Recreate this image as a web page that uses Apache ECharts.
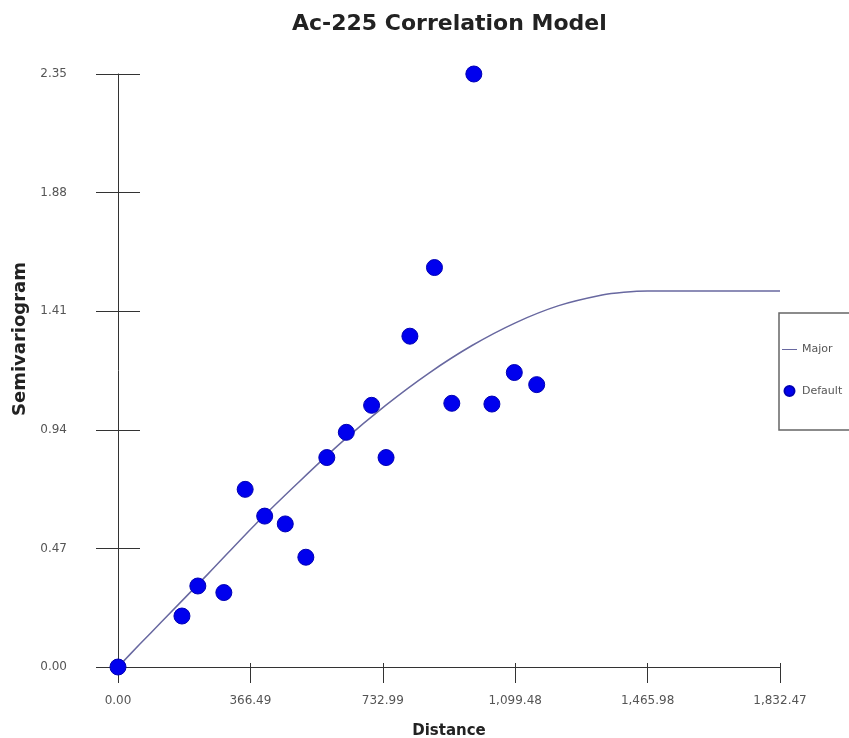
<!DOCTYPE html>
<html>
<head>
<meta charset="utf-8">
<script src="https://cdn.jsdelivr.net/npm/echarts@6/dist/echarts.min.js"></script>
<style>
html,body{margin:0;padding:0;background:#fff;}
#chart{width:849px;height:738px;}
</style>
</head>
<body>
<div id="chart"></div>
<script>
// Empirical semivariogram points ("Default")
var pointDistance = [0, 177, 221, 293, 352, 406, 463, 520, 578, 632, 702, 742, 808, 876, 924, 985, 1035, 1097, 1159];
var pointGamma    = [0, 0.202, 0.321, 0.295, 0.704, 0.598, 0.567, 0.435, 0.830, 0.930, 1.037, 0.830, 1.311, 1.583, 1.045, 2.35, 1.042, 1.167, 1.119];

// Fitted model curve ("Major")
var modelDistance = [0, 60, 120, 250, 380, 500, 620, 740, 860, 980, 1100, 1220, 1340, 1400, 1465.98, 1832.47];
var modelGamma    = [0, 0.09, 0.178, 0.37, 0.565, 0.732, 0.892, 1.036, 1.164, 1.274, 1.364, 1.432, 1.474, 1.485, 1.49, 1.49];

var xTickValues = [0, 366.49, 732.99, 1099.48, 1465.98, 1832.47];
var xTickLabels = ['0.00', '366.49', '732.99', '1,099.48', '1,465.98', '1,832.47'];
var yTickValues = [0, 0.47, 0.94, 1.41, 1.88, 2.35];
var yTickLabels = ['0.00', '0.47', '0.94', '1.41', '1.88', '2.35'];

function zip(a, b) { return a.map(function (v, i) { return [v, b[i]]; }); }
function lab(values, labels) {
  return function (v) {
    for (var i = 0; i < values.length; i++) if (Math.abs(values[i] - v) < 1e-6) return labels[i];
    return '';
  };
}

var chart = echarts.init(document.getElementById('chart'));
var axisColor = '#333';
chart.setOption({
  backgroundColor: '#fff',
  animation: false,
  title: {
    text: 'Ac-225 Correlation Model',
    left: 292,
    top: 13,
    padding: 0,
    textStyle: { fontFamily: 'DejaVu Sans', fontWeight: 'bold', fontSize: 22, color: '#222' }
  },
  grid: { left: 118, right: 69, top: 74, bottom: 71, containLabel: false, outerBoundsMode: 'none' },
  legend: {
    orient: 'vertical',
    left: 779,
    top: 313,
    padding: [31, 40, 33, 3],
    itemGap: 30,
    itemWidth: 15,
    itemHeight: 10,
    borderColor: '#666',
    borderWidth: 1.5,
    textStyle: { fontFamily: 'DejaVu Sans', fontSize: 11, color: '#555' },
    data: [
      { name: 'Major', icon: 'path://M0,0 H20 V1.4 H0 Z' },
      { name: 'Default', icon: 'circle' }
    ]
  },
  xAxis: [{
    type: 'value', min: 0, max: 1832.47,
    position: 'bottom',
    splitLine: { show: false },
    axisLine: { show: true, onZero: false, lineStyle: { color: axisColor, width: 1 } },
    axisTick: { show: true, inside: false, length: 16, customValues: xTickValues, lineStyle: { color: axisColor } },
    axisLabel: { margin: 28, customValues: xTickValues, formatter: lab(xTickValues, xTickLabels),
      fontFamily: 'DejaVu Sans', fontSize: 12, color: '#555' },
    name: 'Distance', nameLocation: 'middle', nameGap: 57,
    nameTextStyle: { fontFamily: 'DejaVu Sans', fontWeight: 'bold', fontSize: 15, color: '#222' }
  }, {
    type: 'value', min: 0, max: 1832.47,
    position: 'bottom',
    splitLine: { show: false },
    axisLine: { show: false, onZero: false },
    axisTick: { show: true, inside: true, length: 4, customValues: xTickValues, lineStyle: { color: axisColor } },
    axisLabel: { show: false }
  }],
  yAxis: [{
    type: 'value', min: 0, max: 2.35,
    position: 'left',
    splitLine: { show: false },
    axisLine: { show: true, onZero: false, lineStyle: { color: axisColor, width: 1 } },
    axisTick: { show: true, inside: false, length: 22, customValues: yTickValues, lineStyle: { color: axisColor } },
    axisLabel: { margin: 51, customValues: yTickValues, formatter: lab(yTickValues, yTickLabels),
      fontFamily: 'DejaVu Sans', fontSize: 12, color: '#555' }
  }, {
    type: 'value', min: 0, max: 2.35,
    position: 'left',
    splitLine: { show: false },
    axisLine: { show: false, onZero: false },
    axisTick: { show: true, inside: true, length: 22, customValues: yTickValues, lineStyle: { color: axisColor } },
    axisLabel: { show: false }
  }],
  graphic: [{
    type: 'text',
    x: 20, y: 339,
    rotation: Math.PI / 2,
    style: {
      text: 'Semivariogram',
      fontFamily: 'DejaVu Sans', fontWeight: 'bold', fontSize: 18, fill: '#222',
      align: 'center', verticalAlign: 'middle'
    }
  }],
  series: [{
    name: 'Major',
    type: 'line',
    xAxisIndex: 0, yAxisIndex: 0,
    data: zip(modelDistance, modelGamma),
    symbol: 'none',
    smooth: 0.3,
    lineStyle: { color: '#6868a0', width: 1.5 },
    itemStyle: { color: '#6868a0' },
    z: 2
  }, {
    name: 'Default',
    type: 'scatter',
    xAxisIndex: 0, yAxisIndex: 0,
    data: zip(pointDistance, pointGamma),
    symbol: 'circle',
    symbolSize: 16,
    clip: false,
    itemStyle: { color: '#0000ee', opacity: 1, borderColor: '#0000b4', borderWidth: 1 },
    z: 3
  }]
});
</script>
</body>
</html>
